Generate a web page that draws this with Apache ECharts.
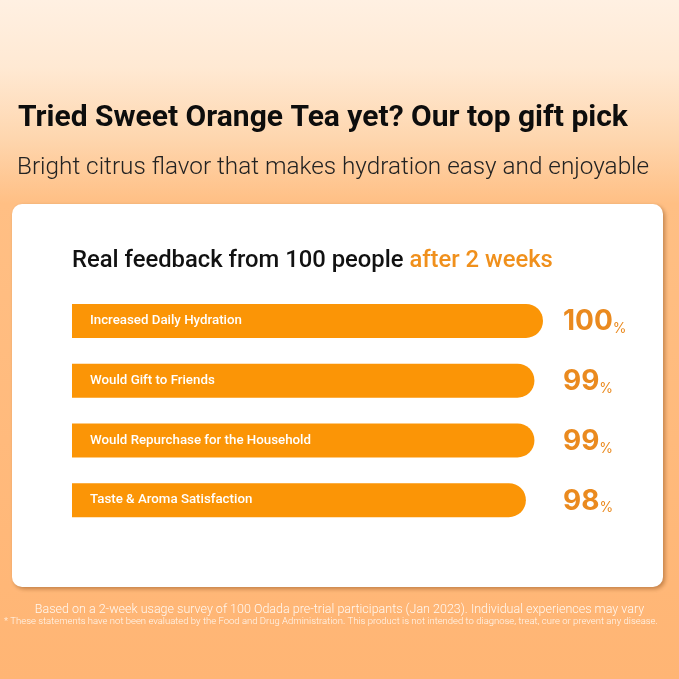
<!DOCTYPE html>
<html>
<head>
<meta charset="utf-8">
<script src="https://cdn.jsdelivr.net/npm/echarts@6/dist/echarts.min.js"></script>
<style>html,body{margin:0;padding:0;}#c{width:679px;height:679px;}</style>
</head>
<body>
<div id="c"></div>
<script>
var categories = ['Increased Daily Hydration', 'Would Gift to Friends', 'Would Repurchase for the Household', 'Taste & Aroma Satisfaction'];
var values = [100, 99, 99, 98];
var titleText = 'Tried Sweet Orange Tea yet? Our top gift pick';
var subtitleText = 'Bright citrus flavor that makes hydration easy and enjoyable';
var headingMain = 'Real feedback from 100 people ';
var headingAccent = 'after 2 weeks';
var footLine1 = 'Based on a 2-week usage survey of 100 Odada pre-trial participants (Jan 2023). Individual experiences may vary';
var footLine2 = '* These statements have not been evaluated by the Food and Drug Administration. This product is not intended to diagnose, treat, cure or prevent any disease.';

var chart = echarts.init(document.getElementById('c'), null, {renderer: 'canvas'});
var orange = '#fb9506';
var pctColor = '#ea8a1f';
var option = {
  animation: false,
  graphic: [
    {type: 'rect', z: -10, shape: {x: 0, y: 0, width: 679, height: 679},
      style: {fill: {type: 'linear', x: 0, y: 0, x2: 0, y2: 1, colorStops: [
        {offset: 0, color: '#fff0e2'}, {offset: 0.1, color: '#ffe9d3'}, {offset: 0.2, color: '#fed7b0'},
        {offset: 0.3, color: '#ffbf84'}, {offset: 1, color: '#ffb574'}]}}},
    {type: 'rect', z: -5, shape: {x: 12, y: 204, width: 651, height: 383, r: 10},
      style: {fill: '#ffffff', shadowColor: 'rgba(120,60,10,0.45)', shadowBlur: 4, shadowOffsetX: 2, shadowOffsetY: 2}},
    {type: 'text', z: 5, left: 18, top: 103,
      style: {text: titleText, fill: '#0d0d0d', font: 'bold 30px Roboto', letterSpacing: -0.3}},
    {type: 'text', z: 5, left: 17, top: 156,
      style: {text: subtitleText, fill: '#222222', font: '300 24.3px Roboto'}},
    {type: 'text', z: 5, left: 72, top: 249,
      style: {text: '{a|' + headingMain + '}{b|' + headingAccent + '}',
        rich: {a: {fill: '#111111', fontSize: 23.8, fontWeight: 500, fontFamily: 'Roboto'},
               b: {fill: '#f0901c', fontSize: 23.8, fontWeight: 500, fontFamily: 'Roboto'}}}},
    {type: 'text', z: 5, left: 'center', top: 603,
      style: {text: footLine1, fill: 'rgba(255,255,255,0.9)', font: '300 12.5px Roboto'}},
    {type: 'text', z: 5, left: 4, top: 617,
      style: {text: footLine2, fill: 'rgba(255,255,255,0.9)', font: '300 9.5px Roboto'}}
  ],
  grid: {left: 72, top: 291, width: 471, height: 239, containLabel: false},
  xAxis: {type: 'value', min: 45, max: 100, show: false},
  yAxis: [
    {type: 'category', data: categories, inverse: true, show: false},
    {type: 'category', data: values.map(function (v) { return String(v); }), inverse: true, position: 'right',
      axisLine: {show: false}, axisTick: {show: false},
      axisLabel: {margin: 20, align: 'left', formatter: function (v) { return '{n|' + v + '}{p|%}'; },
        rich: {n: {fontSize: 28, fontWeight: 'bold', color: pctColor, fontFamily: 'Inter', verticalAlign: 'bottom', lineHeight: 30, padding: [10, 0, 0, 0]},
               p: {fontSize: 14, color: pctColor, fontFamily: 'Inter', verticalAlign: 'bottom', lineHeight: 18, padding: [10, 0, 0, 0]}}}}
  ],
  series: [{
    type: 'bar', yAxisIndex: 0, data: values, barWidth: 34,
    itemStyle: {color: orange, borderRadius: [0, 17, 17, 0]},
    label: {show: true, position: 'insideLeft', distance: 18, formatter: '{b}', color: '#ffffff',
      fontSize: 13.3, fontWeight: 500, fontFamily: 'Roboto'}
  }]
};
chart.setOption(option);
</script>
</body>
</html>
